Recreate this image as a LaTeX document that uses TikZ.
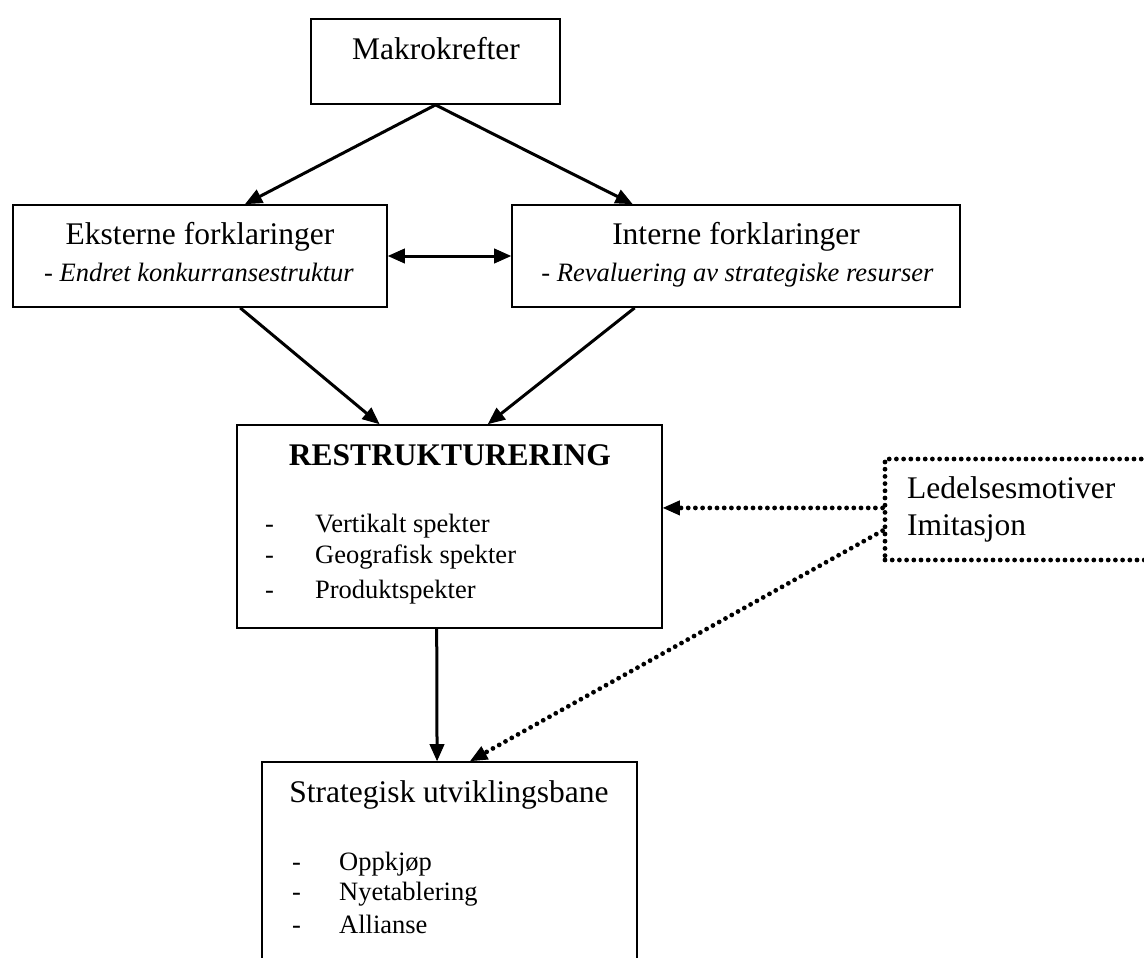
\documentclass[tikz,border=0pt]{standalone}
\usepackage{fontspec}
\setmainfont{Liberation Serif}
\usetikzlibrary{arrows.meta,calc}
\begin{document}
\begin{tikzpicture}[x=1pt,y=-1pt,
  box/.style={draw, line width=1.8pt, inner sep=0pt},
  dotbox/.style={draw, line width=4.8pt, line cap=round, dash pattern=on 0pt off 7.2pt, inner sep=0pt},
  big/.style={inner sep=0pt, anchor=base, font=\fontsize{31.5pt}{38pt}\selectfont},
  small/.style={inner sep=0pt, anchor=base, font=\fontsize{26.5pt}{32pt}\selectfont},
  item/.style={small, anchor=base west},
  tip/.tip={Triangle[length=17pt,width=15pt,line width=1pt]},
  arr/.style={line width=3pt, -tip},
  dblarr/.style={line width=3pt, tip-tip},
  dotarr/.style={line width=4.8pt, line cap=round, dash pattern=on 0pt off 7.2pt, -tip}]
\clip (0,0) rectangle (1144,958);
\fill[white] (0,0) rectangle (1144,958);

% boxes
\node[box, minimum width=249pt, minimum height=85pt] (makro) at (435.5,61.5) {};
\node[box, minimum width=374pt, minimum height=102pt] (ekst) at (200,256) {};
\node[box, minimum width=448pt, minimum height=102pt] (intern) at (736,256) {};
\node[box, minimum width=425pt, minimum height=203pt] (restr) at (449.5,526.5) {};
\node[dotbox, minimum width=290pt, minimum height=101pt] (led) at (1030,509.5) {};
\node[box, minimum width=375pt, minimum height=238pt] (strat) at (449.5,881) {};

% texts
\node[big] (makrot) at (436,60) {Makrokrefter};
\node[big] (ekstt) at (200,244) {Eksterne forklaringer};
\node[small] (ekstd) at (199,281) {- \textit{Endret konkurransestruktur}};
\node[big] (internt) at (736,244) {Interne forklaringer};
\node[small] (internd) at (737.5,281) {- \textit{Revaluering av strategiske resurser}};
\node[big, font=\fontsize{31.5pt}{38pt}\selectfont\bfseries] (restrt) at (450,465) {RESTRUKTURERING};
\node[item] (r1) at (265,532) {\makebox[50pt][l]{-}Vertikalt spekter};
\node[item] (r2) at (265,563) {\makebox[50pt][l]{-}Geografisk spekter};
\node[item] (r3) at (265,598) {\makebox[50pt][l]{-}Produktspekter};
\node[big, anchor=base west] (l1t) at (907,498) {Ledelsesmotiver};
\node[big, anchor=base west] (l2t) at (907,535) {Imitasjon};
\node[big] (stratt) at (449,802) {Strategisk utviklingsbane};
\node[item] (s1) at (292,870) {\makebox[47pt][l]{-}Oppkjøp};
\node[item] (s2) at (292,900) {\makebox[47pt][l]{-}Nyetablering};
\node[item] (s3) at (292,933) {\makebox[47pt][l]{-}Allianse};

% connectors
\draw[arr] (makro.south) -- ($(ekst.north west)!0.62!(ekst.north east)$);
\draw[arr] (makro.south) -- ($(intern.north west)!0.27!(intern.north east)$);
\draw[dblarr] (ekst.east) -- (intern.west);
\draw[arr] ($(ekst.south west)!0.607!(ekst.south east)$) -- ($(restr.north west)!0.336!(restr.north east)$);
\draw[arr] ($(intern.south west)!0.2746!(intern.south east)$) -- ($(restr.north west)!0.59!(restr.north east)$);
\draw[arr] ($(restr.south west)!0.47!(restr.south east)$) -- ($(strat.north west)!0.467!(strat.north east)$);
\coordinate (la) at ($(led.north west)!0.485!(led.south west)$);
\coordinate (lb) at ($(led.north west)!0.70!(led.south west)$);
\draw[dotarr] (la) -- (restr.east |- la);
\draw[dotarr] (lb) -- ($(strat.north west)!0.555!(strat.north east)$);
\end{tikzpicture}
\end{document}
